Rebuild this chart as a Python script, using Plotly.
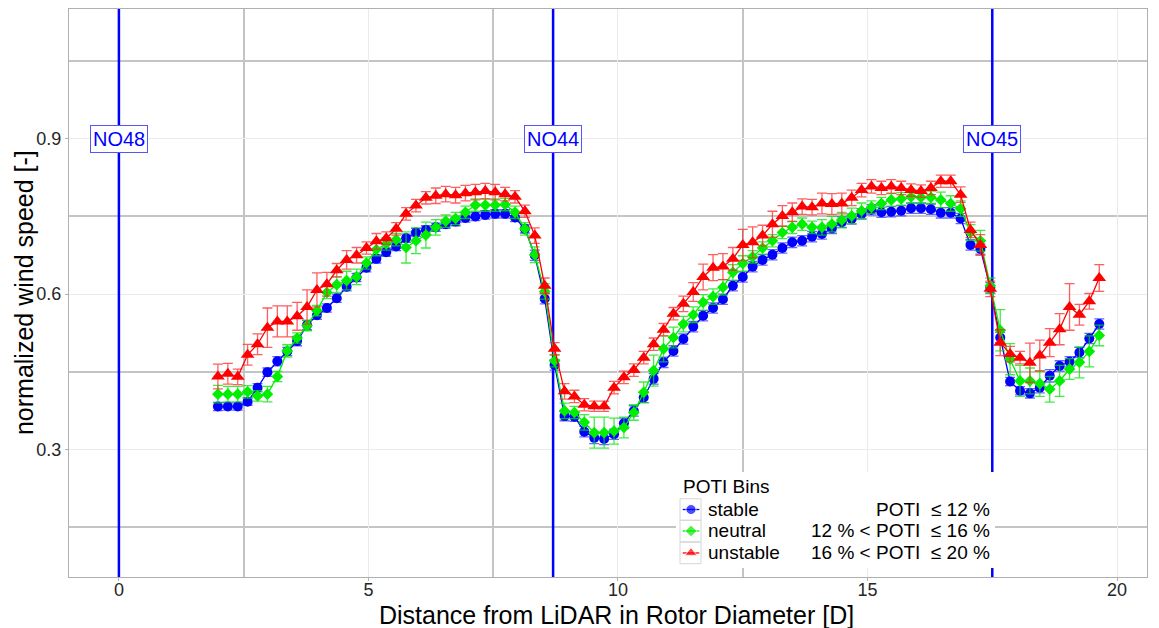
import plotly.graph_objects as go

# Distance from LiDAR in rotor diameters
dist = [1.984, 2.183, 2.381, 2.579, 2.778, 2.976, 3.175, 3.373, 3.571, 3.770,
        3.968, 4.167, 4.365, 4.563, 4.762, 4.960, 5.159, 5.357, 5.556, 5.754,
        5.952, 6.151, 6.349, 6.548, 6.746, 6.944, 7.143, 7.341, 7.540, 7.738,
        7.937, 8.135, 8.333, 8.532, 8.730, 8.929, 9.127, 9.325, 9.524, 9.722,
        9.921, 10.119, 10.317, 10.516, 10.714, 10.913, 11.111, 11.310, 11.508, 11.706,
        11.905, 12.103, 12.302, 12.500, 12.698, 12.897, 13.095, 13.294, 13.492, 13.690,
        13.889, 14.087, 14.286, 14.484, 14.683, 14.881, 15.079, 15.278, 15.476, 15.675,
        15.873, 16.071, 16.270, 16.468, 16.667, 16.865, 17.063, 17.262, 17.460, 17.659,
        17.857, 18.056, 18.254, 18.452, 18.651, 18.849, 19.048, 19.246, 19.444, 19.643]

stable = [0.3825, 0.3825, 0.3825, 0.392, 0.419, 0.449, 0.470, 0.489, 0.509, 0.540,
          0.559, 0.573, 0.592, 0.614, 0.632, 0.651, 0.668, 0.681, 0.692, 0.708,
          0.719, 0.724, 0.729, 0.735, 0.740, 0.747, 0.750, 0.753, 0.755, 0.755,
          0.748, 0.726, 0.675, 0.591, 0.463, 0.364, 0.363, 0.334, 0.322, 0.320,
          0.329, 0.350, 0.374, 0.400, 0.436, 0.468, 0.490, 0.513, 0.537, 0.558,
          0.573, 0.590, 0.616, 0.633, 0.653, 0.666, 0.676, 0.689, 0.700, 0.703,
          0.711, 0.716, 0.727, 0.739, 0.745, 0.755, 0.763, 0.758, 0.759, 0.761,
          0.766, 0.766, 0.764, 0.757, 0.757, 0.746, 0.695, 0.687, 0.612, 0.516,
          0.431, 0.413, 0.408, 0.419, 0.442, 0.461, 0.469, 0.487, 0.514, 0.542]
stable_err = [0.008, 0.007, 0.007, 0.007, 0.008, 0.008, 0.009, 0.008, 0.009, 0.009,
              0.008, 0.008, 0.008, 0.008, 0.008, 0.008, 0.008, 0.008, 0.008, 0.008,
              0.008, 0.008, 0.008, 0.008, 0.008, 0.008, 0.008, 0.008, 0.008, 0.008,
              0.008, 0.008, 0.010, 0.010, 0.010, 0.009, 0.009, 0.010, 0.011, 0.011,
              0.010, 0.010, 0.010, 0.010, 0.010, 0.010, 0.010, 0.010, 0.010, 0.010,
              0.010, 0.010, 0.010, 0.010, 0.010, 0.010, 0.010, 0.010, 0.010, 0.010,
              0.010, 0.010, 0.010, 0.010, 0.010, 0.010, 0.010, 0.010, 0.010, 0.010,
              0.010, 0.010, 0.010, 0.010, 0.010, 0.010, 0.010, 0.010, 0.010, 0.010,
              0.008, 0.008, 0.009, 0.010, 0.012, 0.010, 0.010, 0.010, 0.010, 0.010]

neutral = [0.4065, 0.4065, 0.4065, 0.411, 0.403, 0.4065, 0.4405, 0.490, 0.515, 0.539,
           0.568, 0.603, 0.618, 0.626, 0.633, 0.660, 0.686, 0.697, 0.705, 0.690,
           0.703, 0.714, 0.729, 0.741, 0.746, 0.758, 0.772, 0.772, 0.772, 0.773,
           0.758, 0.726, 0.676, 0.605, 0.471, 0.374, 0.371, 0.352, 0.332, 0.332,
           0.335, 0.342, 0.371, 0.410, 0.452, 0.494, 0.516, 0.542, 0.560, 0.584,
           0.595, 0.613, 0.642, 0.659, 0.672, 0.689, 0.703, 0.719, 0.729, 0.735,
           0.729, 0.729, 0.735, 0.743, 0.751, 0.761, 0.768, 0.775, 0.782, 0.784,
           0.788, 0.787, 0.787, 0.782, 0.775, 0.765, 0.719, 0.703, 0.616, 0.530,
           0.474, 0.432, 0.432, 0.427, 0.416, 0.432, 0.455, 0.468, 0.489, 0.520]
neutral_err = [0.017, 0.015, 0.015, 0.012, 0.010, 0.015, 0.010, 0.012, 0.010, 0.010,
               0.010, 0.012, 0.015, 0.018, 0.015, 0.012, 0.012, 0.012, 0.012, 0.030,
               0.025, 0.025, 0.015, 0.012, 0.012, 0.012, 0.012, 0.012, 0.012, 0.012,
               0.012, 0.012, 0.015, 0.015, 0.012, 0.015, 0.012, 0.015, 0.030, 0.030,
               0.025, 0.020, 0.015, 0.020, 0.030, 0.025, 0.020, 0.015, 0.015, 0.015,
               0.015, 0.015, 0.015, 0.015, 0.012, 0.012, 0.012, 0.012, 0.012, 0.012,
               0.012, 0.015, 0.015, 0.015, 0.015, 0.015, 0.012, 0.012, 0.012, 0.012,
               0.012, 0.012, 0.012, 0.015, 0.015, 0.015, 0.015, 0.020, 0.015, 0.040,
               0.030, 0.030, 0.025, 0.025, 0.025, 0.030, 0.020, 0.030, 0.030, 0.020]

unstable = [0.4405, 0.446, 0.440, 0.4825, 0.503, 0.535, 0.547, 0.547, 0.557, 0.575,
            0.608, 0.619, 0.646, 0.666, 0.675, 0.689, 0.702, 0.708, 0.726, 0.755,
            0.771, 0.786, 0.790, 0.793, 0.791, 0.795, 0.797, 0.799, 0.797, 0.793,
            0.788, 0.760, 0.713, 0.616, 0.494, 0.412, 0.402, 0.386, 0.383, 0.383,
            0.419, 0.439, 0.453, 0.477, 0.503, 0.531, 0.562, 0.581, 0.604, 0.633,
            0.651, 0.653, 0.668, 0.695, 0.700, 0.713, 0.735, 0.751, 0.758, 0.769,
            0.768, 0.775, 0.774, 0.775, 0.786, 0.801, 0.808, 0.805, 0.808, 0.805,
            0.801, 0.799, 0.805, 0.818, 0.818, 0.792, 0.724, 0.695, 0.610, 0.506,
            0.484, 0.477, 0.467, 0.481, 0.506, 0.532, 0.575, 0.560, 0.586, 0.631]
unstable_err = [0.024, 0.020, 0.015, 0.020, 0.020, 0.038, 0.030, 0.030, 0.027, 0.033,
                0.033, 0.023, 0.013, 0.018, 0.015, 0.012, 0.015, 0.012, 0.012, 0.012,
                0.012, 0.012, 0.015, 0.015, 0.015, 0.015, 0.015, 0.015, 0.015, 0.013,
                0.012, 0.012, 0.015, 0.015, 0.012, 0.015, 0.012, 0.012, 0.010, 0.010,
                0.012, 0.012, 0.012, 0.012, 0.012, 0.012, 0.012, 0.015, 0.018, 0.025,
                0.025, 0.025, 0.022, 0.030, 0.030, 0.020, 0.025, 0.020, 0.018, 0.015,
                0.015, 0.020, 0.020, 0.020, 0.015, 0.013, 0.013, 0.013, 0.013, 0.013,
                0.012, 0.012, 0.013, 0.012, 0.012, 0.015, 0.015, 0.020, 0.015, 0.025,
                0.015, 0.012, 0.038, 0.030, 0.027, 0.030, 0.045, 0.020, 0.015, 0.026]

series_names = ["stable", "neutral", "unstable"]
series_labels = ["POTI  \u2264 12 %", "12 % < POTI  \u2264 16 %", "16 % < POTI  \u2264 20 %"]
legend_title = "POTI Bins"
x_title = "Distance from LiDAR in Rotor Diameter [D]"
y_title = "normalized wind speed [-]"

turbine_names = ["NO48", "NO44", "NO45"]
turbine_pos = [0.0, 8.7, 17.5]
label_y = 0.9

x_tick_vals = [0, 5, 10, 15, 20]
x_minor_vals = [2.5, 7.5, 12.5, 17.5]
y_tick_vals = [0.3, 0.6, 0.9]
y_minor_vals = [0.15, 0.45, 0.75, 1.05]
X_RANGE = [-1.0, 20.6]
Y_RANGE = [0.053, 1.151]

FONT = "Liberation Sans, Arial, sans-serif"

styles = [
    ("#0000FF", "rgba(50,50,255,0.75)", "circle", 10, 10),
    ("#00EE00", "rgba(0,230,0,0.75)", "diamond", 9, 9),
    ("#FF0000", "rgba(255,40,40,0.75)", "triangle-up", 12, 11),
]
series_vals = [stable, neutral, unstable]
series_errs = [stable_err, neutral_err, unstable_err]

fig = go.Figure()

# turbine positions (vertical reference lines spanning the panel)
for xp in turbine_pos:
    fig.add_trace(go.Scatter(x=[xp, xp], y=Y_RANGE, mode="lines",
                             line=dict(color="#0000FF", width=2.5),
                             showlegend=False, hoverinfo="skip", cliponaxis=True))

for name, vals, errs, (col, ecol, sym, sz, _) in zip(series_names, series_vals, series_errs, styles):
    fig.add_trace(go.Scatter(
        x=dist, y=vals, name=name, mode="lines+markers", showlegend=False,
        line=dict(color=col, width=1.3),
        marker=dict(color=col, symbol=sym, size=sz),
        error_y=dict(type="data", array=errs, visible=True, color=ecol,
                     thickness=1.3, width=5),
    ))

for nm, xp in zip(turbine_names, turbine_pos):
    fig.add_annotation(x=xp, y=label_y, xref="x", yref="y", text=nm, showarrow=False,
                       font=dict(family=FONT, size=20, color="#0000FF"),
                       bgcolor="white", bordercolor="#5555ff", borderwidth=1,
                       borderpad=2)

# ---- legend drawn on an overlay axis in panel-fraction coordinates ----
LX0, LX1, LY0, LY1 = 0.563, 0.859, 0.016, 0.185
fig.add_trace(go.Scatter(x=[LX0, LX1, LX1, LX0, LX0], y=[LY0, LY0, LY1, LY1, LY0],
                         xaxis="x2", yaxis="y2", mode="lines", fill="toself",
                         fillcolor="white", line=dict(width=0, color="white"),
                         showlegend=False, hoverinfo="skip"))
row_y = [0.1188, 0.081, 0.0423]
row_h = 0.0379
key_x0, key_x1 = 0.5668, 0.5863
for ry in row_y:
    fig.add_shape(type="rect", xref="x2", yref="y2", x0=key_x0, x1=key_x1,
                  y0=ry - row_h / 2, y1=ry + row_h / 2,
                  line=dict(color="#d6d6d6", width=1), fillcolor="rgba(0,0,0,0)",
                  layer="above")
for ry, (col, ecol, sym, sz, ksz) in zip(row_y, styles):
    fig.add_trace(go.Scatter(x=[0.5693, 0.5770, 0.5847], y=[ry, ry, ry],
                             xaxis="x2", yaxis="y2", mode="lines+markers",
                             line=dict(color=col, width=1.3),
                             marker=dict(color=col, symbol=sym, size=[0, ksz, 0]),
                             showlegend=False, hoverinfo="skip"))
fig.add_annotation(x=0.5677, y=0.160, xref="paper", yref="paper", text=legend_title,
                   showarrow=False, xanchor="left", yanchor="middle",
                   font=dict(family=FONT, size=19, color="black"))
for nm, lab, ry in zip(series_names, series_labels, row_y):
    fig.add_annotation(x=0.5905, y=ry, xref="paper", yref="paper", text=nm,
                       showarrow=False, xanchor="left", yanchor="middle",
                       font=dict(family=FONT, size=19, color="black"))
    fig.add_annotation(x=0.8562, y=ry, xref="paper", yref="paper", text=lab,
                       showarrow=False, xanchor="right", yanchor="middle",
                       font=dict(family=FONT, size=19, color="black"))

# axis titles
fig.add_annotation(x=0.5083, y=-0.0669, xref="paper", yref="paper", text=x_title,
                   showarrow=False, xanchor="center", yanchor="middle", height=28,
                   font=dict(family=FONT, size=25, color="black"))
fig.add_annotation(x=-0.0417, y=0.5, xref="paper", yref="paper", text=y_title,
                   showarrow=False, xanchor="center", yanchor="middle", textangle=-90,
                   font=dict(family=FONT, size=25, color="black"))

fig.update_layout(
    width=1159, height=628,
    margin=dict(l=69, r=12, t=9, b=51, autoexpand=False),
    paper_bgcolor="white", plot_bgcolor="white",
    font=dict(family=FONT, color="black"),
    showlegend=False,
    xaxis=dict(
        range=X_RANGE, tickmode="array", tickvals=x_tick_vals,
        ticktext=[str(v) for v in x_tick_vals],
        showgrid=True, gridcolor="#ebebeb", gridwidth=1,
        minor=dict(tickmode="array", tickvals=x_minor_vals, showgrid=True,
                   gridcolor="#c4c4c4", gridwidth=1.8, ticks=""),
        showline=True, linecolor="#b0b0b0", linewidth=1, mirror=True,
        ticks="outside", ticklen=3, tickcolor="#b0b0b0", ticklabelstandoff=-7,
        tickfont=dict(family=FONT, size=18, color="#262626"),
        zeroline=False, automargin=False,
    ),
    yaxis=dict(
        range=Y_RANGE, tickmode="array", tickvals=y_tick_vals,
        ticktext=[str(v) for v in y_tick_vals],
        showgrid=True, gridcolor="#ebebeb", gridwidth=1,
        minor=dict(tickmode="array", tickvals=y_minor_vals, showgrid=True,
                   gridcolor="#c4c4c4", gridwidth=1.8, ticks=""),
        showline=True, linecolor="#b0b0b0", linewidth=1, mirror=True,
        ticks="outside", ticklen=3, tickcolor="#b0b0b0",
        tickfont=dict(family=FONT, size=18, color="#262626"),
        zeroline=False, automargin=False,
    ),
    xaxis2=dict(range=[0, 1], overlaying="x", anchor="y2", visible=False,
                fixedrange=True),
    yaxis2=dict(range=[0, 1], overlaying="y", anchor="x2", visible=False,
                fixedrange=True),
)

fig.write_html("out.html")
